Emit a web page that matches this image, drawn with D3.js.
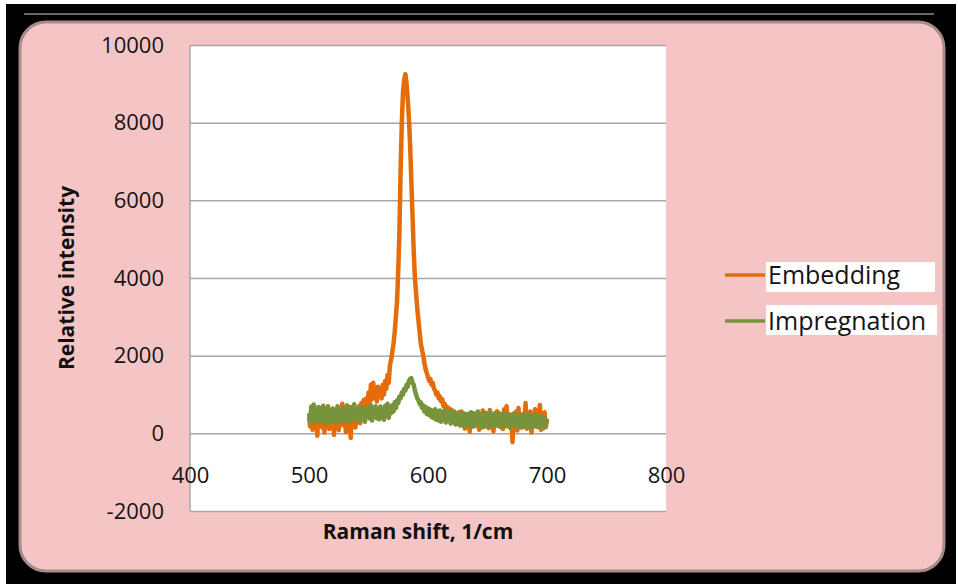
<!DOCTYPE html>
<html>
<head>
<meta charset="utf-8">
<script src="https://cdn.jsdelivr.net/npm/d3@7"></script>
<style>
  body { margin: 0; background: #fff; }
  svg { display: block; }
</style>
</head>
<body>
<svg id="chart" width="958" height="587"></svg>
<script>
// ===== DATA =====
// Raman shift, 1/cm (one point per wavenumber, 500..700)
const shiftStart = 500;
const shiftStep = 1;

// Embedding spectrum (orange)
const embedding = [
  420, 180, 560, 90, 610, 240, 470, -60, 520, 300,
  650, 150, 480, 20, 590, 330, 700, 110, 450, 260,
  580, -40, 510, 190, 640, 80, 430, 350, 760, 200,
  470, 30, 560, 290, 680, -120, 400, 240, 610, 150,
  520, 330, 700, 260, 780, 410, 860, 520, 900, 600,
  1050, 720, 1250, 880, 1300, 980, 1150, 820, 1200, 950,
  1100, 900, 1250, 1000, 1350, 1150, 1500, 1300, 1750, 1900,
  2100, 2300, 2600, 3000, 3400, 4200, 5200, 6800, 8000, 8800,
  9100, 9250, 9000, 8600, 8100, 7400, 6500, 5600, 4700, 4000,
  3600, 3200, 2900, 2600, 2300, 2150, 2000, 1800, 1650, 1550,
  1450, 1350, 1400, 1250, 1300, 1150, 1100, 1000, 1050, 900,
  950, 820, 880, 700, 760, 620, 690, 520, 640, 450,
  600, 380, 550, 300, 520, 240, 480, 330, 560, 200,
  430, 120, 500, 260, 390, 40, 450, 310, 520, 180,
  470, 220, 540, 90, 410, 300, 590, 160, 440, 260,
  510, 130, 600, 280, 430, 50, 480, 340, 570, 190,
  520, 240, 460, 110, 620, 290, 700, 180, 420, 330,
  480, -230, 410, 200, 560, 70, 650, 260, 380, 150,
  500, 230, 780, 120, 450, 300, 560, 20, 490, 250,
  620, 170, 440, 310, 730, 90, 480, 220, 540, 160,
  380
];

// Impregnation spectrum (green)
const impregnation = [
  520, 330, 690, 280, 740, 410, 600, 300, 680, 380,
  560, 290, 710, 350, 620, 260, 670, 420, 590, 310,
  640, 370, 550, 280, 700, 330, 610, 400, 580, 290,
  660, 340, 720, 390, 600, 300, 680, 440, 750, 360,
  630, 320, 590, 410, 700, 350, 640, 300, 610, 420,
  680, 380, 720, 330, 650, 440, 700, 390, 620, 360,
  690, 420, 640, 350, 710, 460, 760, 400, 680, 520,
  720, 560, 800, 650, 850, 780, 950, 900, 1050, 1000,
  1150, 1100, 1250, 1200, 1350, 1400, 1420, 1300, 1250, 1100,
  1000, 900, 850, 760, 800, 650, 720, 560, 680, 500,
  640, 470, 610, 420, 580, 390, 620, 350, 560, 330,
  590, 300, 540, 360, 600, 280, 520, 340, 570, 250,
  510, 300, 560, 230, 480, 320, 540, 200, 470, 290,
  520, 180, 460, 260, 500, 210, 540, 170, 450, 280,
  510, 200, 560, 240, 470, 150, 490, 260, 530, 190,
  480, 230, 550, 170, 460, 280, 520, 200, 440, 250,
  500, 160, 470, 230, 530, 190, 450, 270, 490, 140,
  430, 220, 510, 180, 460, 250, 480, 150, 420, 230,
  490, 170, 440, 260, 510, 140, 460, 210, 430, 180,
  470, 240, 400, 160, 450, 200, 420, 130, 390, 210,
  350
];

const seriesNames = ["Embedding", "Impregnation"];
const seriesColors = ["#e46c0a", "#77933c"];
const xTicks = [400, 500, 600, 700, 800];
const yTicks = [-2000, 0, 2000, 4000, 6000, 8000, 10000];

// ===== LAYOUT =====
const svg = d3.select("#chart");
const plot = { left: 190, right: 666, top: 45, bottom: 511 };
const fontFamily = "'Open Sans', Lato, sans-serif";

// outer frame
svg.append("rect")
  .attr("x", 6).attr("y", 4)
  .attr("width", 950).attr("height", 580)
  .attr("fill", "#000");

svg.append("line")
  .attr("x1", 24).attr("x2", 934)
  .attr("y1", 14).attr("y2", 14)
  .attr("stroke", "#8a8a8a")
  .attr("stroke-width", 1.5);

svg.append("rect")
  .attr("x", 20).attr("y", 22)
  .attr("width", 924).attr("height", 549)
  .attr("rx", 26).attr("ry", 26)
  .attr("fill", "#f5c5c5")
  .attr("stroke", "#a88a8a")
  .attr("stroke-width", 3);

// plot area
svg.append("rect")
  .attr("x", plot.left).attr("y", plot.top)
  .attr("width", plot.right - plot.left)
  .attr("height", plot.bottom - plot.top)
  .attr("fill", "#fff");

const x = d3.scaleLinear().domain([400, 800]).range([plot.left, plot.right]);
const y = d3.scaleLinear().domain([-2000, 10000]).range([plot.bottom, plot.top]);

// gridlines
svg.append("g")
  .attr("transform", `translate(${plot.left},0)`)
  .call(d3.axisLeft(y).tickValues(yTicks).tickSize(-(plot.right - plot.left)).tickFormat(""))
  .call(g => g.select(".domain").remove())
  .call(g => g.selectAll("line").attr("stroke", "#a6a6a6").attr("stroke-width", 1.5));

// left axis line
svg.append("line")
  .attr("x1", plot.left).attr("x2", plot.left)
  .attr("y1", plot.top).attr("y2", plot.bottom)
  .attr("stroke", "#a6a6a6").attr("stroke-width", 1.5);

// y tick labels (plain hyphen for negatives, like the original)
svg.append("g")
  .attr("transform", `translate(${plot.left},0)`)
  .call(d3.axisLeft(y).tickValues(yTicks).tickSize(0).tickPadding(26).tickFormat(d => String(d)))
  .call(g => g.select(".domain").remove())
  .call(g => g.selectAll("text")
    .attr("fill", "#141414")
    .style("font-family", fontFamily)
    .style("font-size", "22px"));

// x tick labels sit under the zero line
svg.append("g")
  .attr("transform", `translate(0,${y(0)})`)
  .call(d3.axisBottom(x).tickValues(xTicks).tickSize(0).tickPadding(34).tickFormat(d => String(d)))
  .call(g => g.select(".domain").remove())
  .call(g => g.selectAll("text")
    .attr("fill", "#141414")
    .style("font-family", fontFamily)
    .style("font-size", "22px"));

// ===== SERIES =====
const line = d3.line()
  .x((d, i) => x(shiftStart + i * shiftStep))
  .y(d => y(d));

[embedding, impregnation].forEach((vals, k) => {
  svg.append("path")
    .datum(vals)
    .attr("fill", "none")
    .attr("stroke", seriesColors[k])
    .attr("stroke-width", 4.5)
    .attr("stroke-linejoin", "round")
    .attr("d", line);
});

// ===== AXIS TITLES =====
svg.append("text")
  .attr("transform", "translate(74,278) rotate(-90)")
  .attr("text-anchor", "middle")
  .attr("fill", "#111")
  .style("font-family", fontFamily)
  .style("font-size", "21px")
  .style("font-weight", "bold")
  .text("Relative intensity");

svg.append("text")
  .attr("x", 418).attr("y", 539)
  .attr("text-anchor", "middle")
  .attr("fill", "#111")
  .style("font-family", fontFamily)
  .style("font-size", "21px")
  .style("font-weight", "bold")
  .text("Raman shift, 1/cm");

// ===== LEGEND =====
const legendY = [275, 321];
const legendBox = [{ y: 262, w: 169 }, { y: 305, w: 171 }];
seriesNames.forEach((name, k) => {
  const g = svg.append("g");
  g.append("rect")
    .attr("x", 766).attr("y", legendBox[k].y)
    .attr("width", legendBox[k].w).attr("height", 30)
    .attr("fill", "#fff");
  g.append("line")
    .attr("x1", 725).attr("x2", 765)
    .attr("y1", legendY[k]).attr("y2", legendY[k])
    .attr("stroke", seriesColors[k])
    .attr("stroke-width", 3.5);
  g.append("text")
    .attr("x", 768).attr("y", legendY[k] + 9)
    .attr("fill", "#141414")
    .style("font-family", fontFamily)
    .style("font-size", "25px")
    .text(name);
});
</script>
</body>
</html>
